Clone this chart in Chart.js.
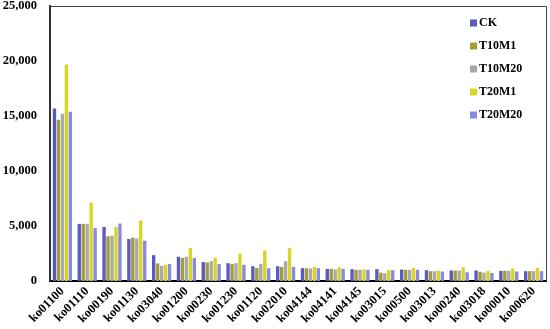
<!DOCTYPE html>
<html>
<head>
<meta charset="utf-8">
<script src="https://cdn.jsdelivr.net/npm/chart.js@4/dist/chart.umd.min.js"></script>
<style>
  html, body { margin: 0; padding: 0; background: #fff; }
  #wrap { width: 550px; height: 329px; }
</style>
</head>
<body>
<div id="wrap"><canvas id="myChart"></canvas></div>
<script>
const categories = ['ko01100', 'ko01110', 'ko00190', 'ko01130', 'ko03040', 'ko01200', 'ko00230', 'ko01230', 'ko01120', 'ko02010',
    'ko04144', 'ko04141', 'ko04145', 'ko03015', 'ko00500', 'ko03013', 'ko00240', 'ko03018', 'ko00010', 'ko00620'];

const seriesNames = ['CK', 'T10M1', 'T10M20', 'T20M1', 'T20M20'];
const seriesColors = ['#5a5ac0', '#a39c3a', '#a9a9a9', '#d6d625', '#8a8ae0'];

const ck     = [15690, 5190, 4910, 3810, 2350, 2200, 1710, 1620, 1340, 1340, 1160, 1100, 1070, 1070, 1040, 980, 950, 950, 920, 890];
const t10m1  = [14650, 5190, 4060, 3940, 1590, 2100, 1680, 1530, 1190, 1280, 1160, 1100, 1010, 760, 1010, 890, 950, 830, 920, 890];
const t10m20 = [15200, 5190, 4120, 3870, 1370, 2200, 1800, 1620, 1560, 1800, 1130, 1040, 1010, 700, 1010, 890, 950, 760, 920, 890];
const t20m1  = [19690, 7110, 4910, 5490, 1470, 2990, 2130, 2470, 2770, 2990, 1280, 1250, 1040, 980, 1190, 950, 1250, 920, 1130, 1190];
const t20m20 = [15380, 4820, 5220, 3660, 1530, 2080, 1530, 1470, 1160, 1280, 1160, 1100, 1010, 980, 1010, 860, 790, 730, 860, 890];

const yTicks = [0, 5000, 10000, 15000, 20000, 25000];

const allSeries = [ck, t10m1, t10m20, t20m1, t20m20];
const font = { family: '"Liberation Serif", "Times New Roman", serif', weight: 'bold', size: 12.5 };

// frame on top and right of the plot
const framePlugin = {
    id: 'frame',
    afterDraw(chart) {
        const { ctx, chartArea: a } = chart;
        ctx.save();
        ctx.strokeStyle = '#444';
        ctx.lineWidth = 1;
        ctx.beginPath();
        ctx.moveTo(a.left, a.top + 0.5);
        ctx.lineTo(a.right + 0.5, a.top + 0.5);
        ctx.lineTo(a.right + 0.5, a.bottom);
        ctx.stroke();
        ctx.restore();
    }
};

// legend drawn inside the plot, top right
const legendPlugin = {
    id: 'innerLegend',
    afterDraw(chart) {
        const { ctx, chartArea: a } = chart;
        ctx.save();
        ctx.font = 'bold 12px "Liberation Serif", serif';
        ctx.textBaseline = 'middle';
        chart.data.datasets.forEach((ds, i) => {
            const y = a.top + 17 + i * 23;
            const x = a.right - 76;
            ctx.fillStyle = ds.backgroundColor;
            ctx.fillRect(x, y - 3.5, 7, 7);
            ctx.fillStyle = '#000';
            ctx.fillText(ds.label, x + 9, y);
        });
        ctx.restore();
    }
};

const datasets = seriesNames.map((name, i) => ({
    label: name,
    data: allSeries[i],
    backgroundColor: seriesColors[i],
    categoryPercentage: 0.8,
    barPercentage: 0.85
}));

const myChart = new Chart(document.getElementById('myChart'), {
    type: 'bar',
    data: { labels: categories, datasets: datasets },
    options: {
        responsive: true,
        maintainAspectRatio: false,
        animation: false,
        layout: { padding: { top: 0, right: 4, left: 0, bottom: 0 } },
        plugins: {
            legend: { display: false },
            tooltip: { enabled: false }
        },
        scales: {
            x: {
                grid: { display: false, drawTicks: false },
                border: { display: true, color: '#000', width: 2 },
                afterFit(scale) {
                    scale.paddingLeft = 0;
                },
                ticks: {
                    color: '#000',
                    font: font,
                    maxRotation: 45,
                    minRotation: 45,
                    autoSkip: false,
                    padding: 3
                }
            },
            y: {
                min: 0,
                max: 25000,
                afterBuildTicks(scale) {
                    scale.ticks = yTicks.map(v => ({ value: v }));
                },
                afterFit(scale) {
                    scale.width = 50;
                    scale.paddingTop = 6;
                },
                grid: { display: false, drawTicks: true, tickLength: 3 },
                border: { display: true, color: '#333', width: 2 },
                ticks: {
                    color: '#000',
                    font: font,
                    padding: 10,
                    callback: v => v.toLocaleString('en-US')
                }
            }
        }
    },
    plugins: [framePlugin, legendPlugin]
});
</script>
</body>
</html>
